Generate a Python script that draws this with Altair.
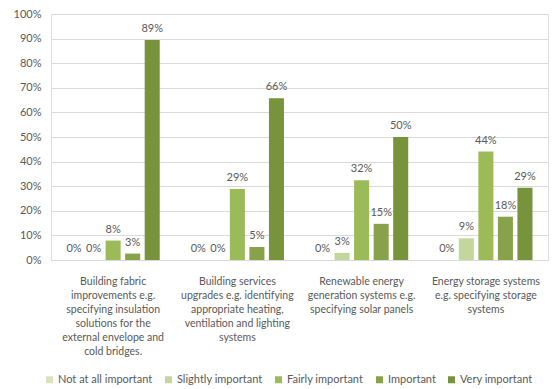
import altair as alt
import pandas as pd

categories = [
    "Building fabric|improvements e.g.|specifying insulation|solutions for the|external envelope and|cold bridges.",
    "Building services|upgrades e.g. identifying|appropriate heating,|ventilation and lighting|systems",
    "Renewable energy|generation systems e.g.|specifying solar panels",
    "Energy storage systems|e.g. specifying storage|systems",
]
levels = ["Not at all important", "Slightly important", "Fairly important", "Important", "Very important"]
colors = ["#D7E4BD", "#C3D69B", "#9BBB59", "#87A24B", "#77933C"]

values = {
    categories[0]: [0.0, 0.0, 7.9, 2.6, 89.4],
    categories[1]: [0.0, 0.0, 28.9, 5.3, 65.8],
    categories[2]: [0.0, 2.9, 32.4, 14.7, 50.0],
    categories[3]: [0.0, 8.8, 44.1, 17.6, 29.4],
}

rows = []
for c in categories:
    for lvl, v in zip(levels, values[c]):
        rows.append({"cat": c, "level": lvl, "value": v / 100.0})
df = pd.DataFrame(rows)

FONT = "Lato"
TXT = "#595959"

x = alt.X("cat:N", sort=categories, title=None,
          scale=alt.Scale(paddingInner=0.25, paddingOuter=0.125),
          axis=alt.Axis(labelExpr="split(datum.value, '|')", labelAngle=0,
                        labelFont=FONT, labelFontSize=10.5, labelColor=TXT,
                        labelLineHeight=14, labelPadding=16, ticks=False,
                        domainColor="#D9D9D9", labelLimit=200))
xo = alt.XOffset("level:N", sort=levels, scale=alt.Scale(paddingInner=0.23))
y = alt.Y("value:Q", title=None,
          scale=alt.Scale(domain=[0, 1], nice=False),
          axis=alt.Axis(format=".0%", values=[i / 10 for i in range(11)],
                        labelFont=FONT, labelFontSize=11, labelColor=TXT,
                        labelPadding=10, ticks=False, domain=False,
                        gridColor="#D9D9D9", gridWidth=1))

bars = alt.Chart(df).mark_bar().encode(
    x=x, xOffset=xo, y=y,
    color=alt.Color("level:N", sort=levels,
                    scale=alt.Scale(domain=levels, range=colors),
                    legend=alt.Legend(title=None, orient="none", direction="horizontal",
                                      legendX=-7, legendY=360,
                                      symbolType="square", symbolSize=49,
                                      symbolStrokeWidth=0, labelOffset=3,
                                      columnPadding=10, labelFont=FONT,
                                      labelFontSize=11, labelColor=TXT)),
)

labels = alt.Chart(df).mark_text(font=FONT, fontSize=11, color=TXT,
                                 baseline="alphabetic", dy=-8).encode(
    x=x, xOffset=xo, y=y,
    text=alt.Text("value:Q", format=".0%"),
)

chart = (bars + labels).properties(
    width=497, height=246,
    padding={"left": 51, "top": 14, "right": 5, "bottom": 129},
    autosize=alt.AutoSizeParams(type="none"),
).configure_view(stroke=None).configure(background="white")

chart.save("out.html", embed_options={"renderer": "svg", "actions": False})
